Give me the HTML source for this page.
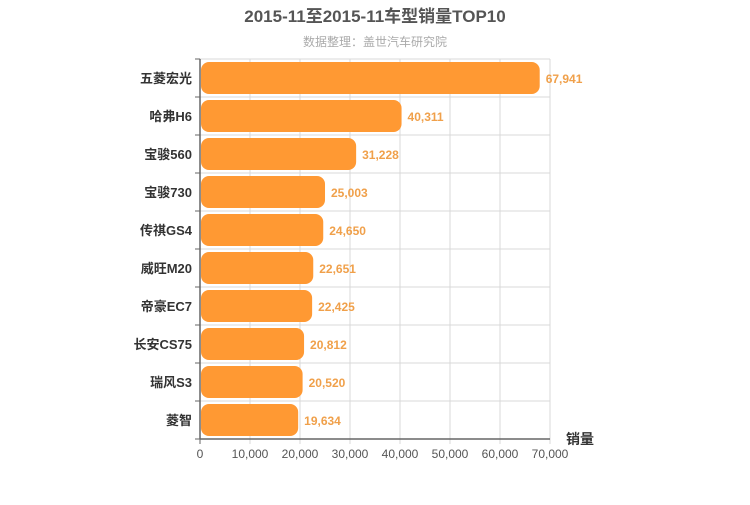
<!DOCTYPE html>
<html><head><meta charset="utf-8"><style>
body{margin:0;background:#fff;font-family:"Liberation Sans","Noto Sans CJK SC",sans-serif}
</style></head><body>
<svg width="750" height="500" xmlns="http://www.w3.org/2000/svg" font-family="Liberation Sans, Noto Sans CJK SC, sans-serif">
<text x="375" y="22" text-anchor="middle" font-size="17" font-weight="bold" fill="#555">2015-11至2015-11车型销量TOP10</text>
<text x="375" y="46" text-anchor="middle" font-size="12" fill="#aaa">数据整理：盖世汽车研究院</text>
<g id="g"></g>
</svg>
<script>
const categories=["五菱宏光","哈弗H6","宝骏560","宝骏730","传祺GS4","威旺M20","帝豪EC7","长安CS75","瑞风S3","菱智"];
const values=[67941,40311,31228,25003,24650,22651,22425,20812,20520,19634];
const ticks=[0,10000,20000,30000,40000,50000,60000,70000];
const X0=200,X1=550,Y0=59,Y1=439,MAX=70000;
const x=v=>X0+v/MAX*(X1-X0);
const rh=(Y1-Y0)/categories.length;
const g=document.getElementById('g');const NS='http://www.w3.org/2000/svg';
function mk(t,a,p){const e=document.createElementNS(NS,t);for(const k in a)e.setAttribute(k,a[k]);(p||g).appendChild(e);return e;}
ticks.forEach((t,i)=>{
 const l=mk('line',{x1:x(t),x2:x(t),y1:Y0,y2:Y1+5,stroke:i?'#d8d8d8':'#666','stroke-width':1});
 
 const tx=mk('text',{x:x(t),y:Y1+19,'text-anchor':'middle','font-size':12,fill:'#555'});tx.textContent=t.toLocaleString('en-US');
 
});
for(let i=0;i<=categories.length;i++){
 const y=Y0+i*rh;
 const l=mk('line',{x1:X0-5,x2:X1,y1:y,y2:y,stroke:'#d8d8d8'});
 
 const tk=mk('line',{x1:X0-5,x2:X0,y1:y,y2:y,stroke:'#666'});
 
}
const ax=mk('line',{x1:X0,x2:X0,y1:Y0,y2:Y1,stroke:'#666','stroke-width':1.5});

const bx=mk('line',{x1:X0,x2:X1,y1:Y1,y2:Y1,stroke:'#666','stroke-width':1.5});

categories.forEach((c,i)=>{
 const cy=Y0+i*rh+rh/2;
 const r=mk('rect',{x:X0+1,y:cy-16,width:x(values[i])-X0-1,height:32,rx:8,fill:'#ff9933'});
 
 const lb=mk('text',{x:X0-8,y:cy+5,'text-anchor':'end','font-size':13,'font-weight':'bold',fill:'#333'});lb.textContent=c;
 
 const v=mk('text',{x:x(values[i])+6,y:cy+5,'font-size':12,'font-weight':'bold',fill:'#f0a04a'});v.textContent=values[i].toLocaleString('en-US');
 
});
const at=mk('text',{x:580,y:444,'text-anchor':'middle','font-size':14,'font-weight':'bold',fill:'#333'});at.textContent='销量';

</script>
</body></html>
